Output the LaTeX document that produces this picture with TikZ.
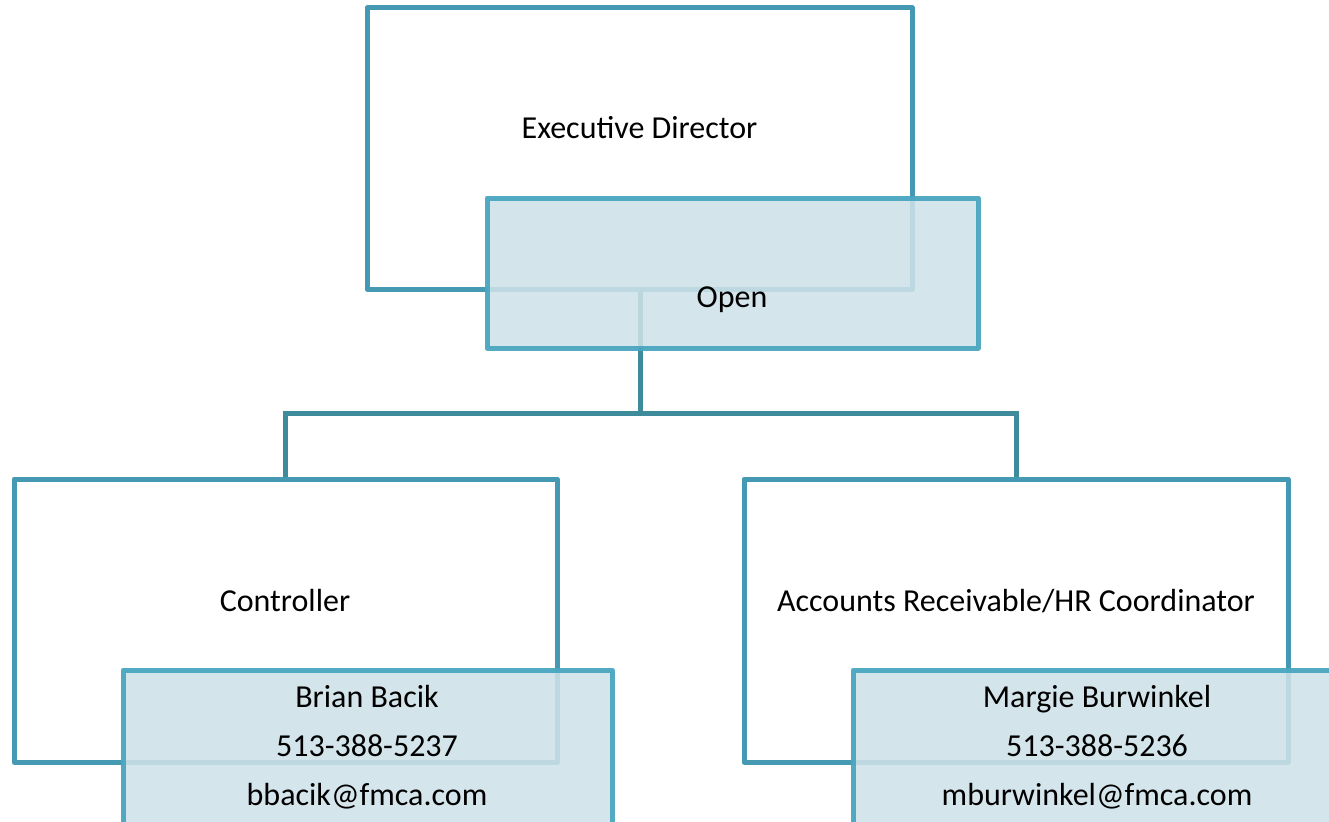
\documentclass[tikz,border=0pt]{standalone}
\usepackage{fontspec}
\setmainfont{Carlito}
\definecolor{boxline}{HTML}{4AA6C0}
\definecolor{boxlinedark}{HTML}{4699B2}
\definecolor{connline}{HTML}{3E8B9C}
\definecolor{namefill}{RGB}{206,225,232}
\begin{document}
\begin{tikzpicture}[x=1pt,y=-1pt,
  rolebox/.style={draw=boxlinedark, line width=5pt, fill=white, rectangle, inner sep=0pt, line join=round},
  namebox/.style={draw=boxline, line width=5pt, fill=namefill, fill opacity=0.88, draw opacity=0.95, rectangle, inner sep=0pt, line join=round},
  conn/.style={draw=connline, line width=5pt},
  lbl/.style={font=\fontsize{32}{36}\selectfont, text=black, inner sep=0pt, anchor=base}]
\useasboundingbox (0,0) rectangle (1329,821);
\clip (0,0) rectangle (1329,821);
% top
\node[rolebox, minimum width=545pt, minimum height=281pt] (exec) at (639.5,148.5) {};
\node[lbl] (execT) at (639.5,139) {Executive Director};
\coordinate (bus) at (640,413);
\node[rolebox, minimum width=543pt, minimum height=283pt] (ctrl) at (285.5,620.5) {};
\node[rolebox, minimum width=544pt, minimum height=283pt] (ar) at (1016,620.5) {};
\draw[conn] (exec.south -| bus) -- (bus);
\draw[conn] (ctrl.north) |- (bus) -| (ar.north);
\node[namebox, minimum width=491pt, minimum height=150pt] (open) at (732.5,273) {};
\node[lbl] (openT) at (732,307) {Open};
\node[lbl] (ctrlT) at (285,611) {Controller};
\node[lbl] (arT) at (1016,611) {Accounts Receivable/HR Coordinator};
% name boxes
\node[namebox, minimum width=489pt, minimum height=170pt] (brian) at (367.5,755) {};
\node[lbl] (brian1) at (367,707) {Brian Bacik};
\node[lbl] (brian2) at (367,756) {513-388-5237};
\node[lbl] (brian3) at (367,805) {bbacik@fmca.com};
\node[namebox, minimum width=489pt, minimum height=170pt] (margie) at (1097.5,755) {};
\node[lbl] (margie1) at (1097,707) {Margie Burwinkel};
\node[lbl] (margie2) at (1097,756) {513-388-5236};
\node[lbl] (margie3) at (1097,805) {mburwinkel@fmca.com};
\end{tikzpicture}
\end{document}
